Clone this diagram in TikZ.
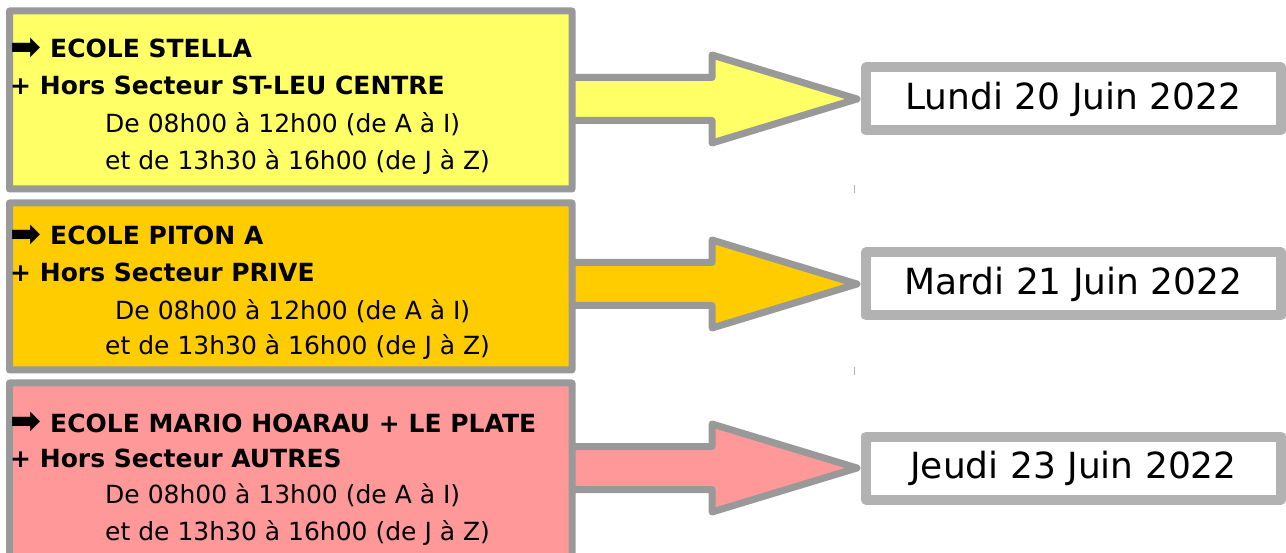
\documentclass[tikz,border=0pt]{standalone}
\usepackage{fontspec}
\setmainfont{DejaVu Sans}
\definecolor{stella}{HTML}{FFFF66}
\definecolor{piton}{HTML}{FFCC00}
\definecolor{mario}{HTML}{FF9999}
\definecolor{arrowgray}{HTML}{999999}
\definecolor{boxgray}{HTML}{B2B2B2}
\newcommand{\ecolearrow}{\makebox[40pt][l]{\fontsize{37}{30}\selectfont\raisebox{-1.5pt}{➡}}}

\begin{document}
\begin{tikzpicture}[x=1pt,y=-1pt,line join=round,
  datebox/.style={draw=boxgray,line width=10pt,fill=white,minimum width=415pt,
    minimum height=63pt,inner sep=0pt,font=\fontsize{36}{40}\selectfont},
  school/.style={anchor=base west,inner sep=0pt,font=\fontsize{25}{28}\selectfont\bfseries},
  hours/.style={anchor=base west,inner sep=0pt,font=\fontsize{25}{28}\selectfont}]
\clip (0,0) rectangle (1286,553);
\fill[white] (0,0) rectangle (1286,553);
\node[datebox] (d1) at (1073.5,99) {Lundi 20 Juin 2022};
\node[datebox] (d2) at (1073.5,284) {Mardi 21 Juin 2022};
\node[datebox] (d3) at (1073.5,468) {Jeudi 23 Juin 2022};
\foreach \n/\col/\top/\bot/\half in
{1/stella/11/189/21.5, 2/piton/203/370/21.5, 3/mario/383/562/21.5}
{
\filldraw[fill=\col,draw=arrowgray,line width=7pt]
  (9.5,\top) -- (572,\top) -- (572,\top) |- ([yshift=-\half pt]d\n.west -| 712,0)
  -- ([yshift=-44pt]d\n.west -| 712,0) -- ([xshift=-4pt]d\n.west)
  -- ([yshift=44pt]d\n.west -| 712,0) -- ([yshift=\half pt]d\n.west -| 712,0)
  -| (572,\bot) -- (9.5,\bot) -- cycle;
}
% Stella
\node[school] (e1) at (10,58) {\ecolearrow ECOLE STELLA};
\node[school] (h1) at (10,95) {+ Hors Secteur ST-LEU CENTRE};
\node[hours] (m1) at (105,133) {De 08h00 à 12h00 (de A à I)};
\node[hours] (a1) at (105,170) {et de 13h30 à 16h00 (de J à Z)};
% Piton A
\node[school] (e2) at (10,245) {\ecolearrow ECOLE PITON A};
\node[school] (h2) at (10,282) {+ Hors Secteur PRIVE};
\node[hours] (m2) at (115,320) {De 08h00 à 12h00 (de A à I)};
\node[hours] (a2) at (105,355) {et de 13h30 à 16h00 (de J à Z)};
% Mario Hoarau
\node[school] (e3) at (10,432) {\ecolearrow ECOLE MARIO HOARAU + LE PLATE};
\node[school] (h3) at (10,467) {+ Hors Secteur AUTRES};
\node[hours] (m3) at (105,503) {De 08h00 à 13h00 (de A à I)};
\node[hours] (a3) at (105,540) {et de 13h30 à 16h00 (de J à Z)};
\draw[boxgray,line width=1pt] (854.5,185) -- (854.5,193);
\draw[boxgray,line width=1pt] (854.5,367) -- (854.5,375);
\end{tikzpicture}
\end{document}
